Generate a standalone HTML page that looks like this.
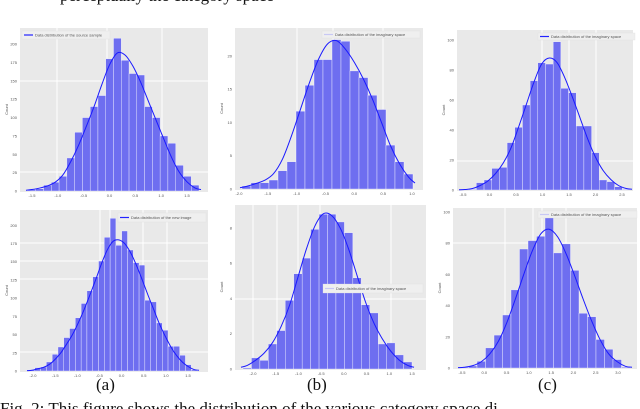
<!DOCTYPE html>
<html><head><meta charset="utf-8"><style>
body{margin:0;background:#fff;width:640px;height:409px;overflow:hidden}
svg{display:block}
text{font-family:"Liberation Serif",serif}
.t{font-family:"Liberation Sans",sans-serif;font-size:4px;fill:#555}
</style></head><body>
<svg id="fig" width="640" height="409" viewBox="0 0 640 409">
<text x="60" y="1" font-size="17" fill="#111">perceptually the category space</text>
<text x="96" y="390" font-size="17" fill="#111">(a)</text>
<text x="307" y="390" font-size="17" fill="#111">(b)</text>
<text x="538" y="390" font-size="17" fill="#111">(c)</text>
<text x="0" y="414" font-size="17" fill="#111">Fig. 2: This figure shows the distribution of the various category space di</text>
</svg>
<script>
// Panel data (counts per bin, KDE per bin, tick labels)
const aTopCounts=[2,3,8,12,20,45,80,100,115,130,180,208,178,160,158,115,100,75,65,35,20,8];
const aTopKde=[2,4,7,12,22,40,62,88,115,145,172,188,185,170,148,122,96,70,45,25,12,4];
const aTopYTicks=[0,25,50,75,100,125,150,175,200];
const aTopXTicks=[-1.5,-1.0,-0.5,0.0,0.5,1.0,1.5];

const bTopCounts=[0.45,0.95,0.95,1.35,2.75,4.1,11.7,15.6,19.45,19.45,22.45,22.2,17.75,16.75,14.1,11.95,6.6,4.1,2.25];
const bTopKde=[0.4,0.8,1.3,2.3,4.5,8,12,16,19.5,21.8,22.3,21,19,16.5,13.5,10,6.5,3.8,1.8];
const bTopYTicks=[0,5,10,15,20];
const bTopXTicks=[-2.0,-1.5,-1.0,-0.5,0.0,0.5,1.0];

const cTopCounts=[0,0.4,4.9,6.7,14.4,15.1,31.6,41.8,56.7,72.9,84.9,84,98.9,67.8,64.9,42.7,42.7,24.9,6.7,5.6,2.2,0.4];
const cTopKde=[0.3,1,3,6,11,18,28,42,57,72,84,88,85,75,62,48,34,22,13,7,3,1];
const cTopYTicks=[0,20,40,60,80,100];
const cTopXTicks=[-0.5,0.0,0.5,1.0,1.5,2.0,2.5];

const aBotCounts=[1.8,4.6,5.5,12.4,22.9,33,45.9,58.3,73,92.7,110.1,129.4,150.9,183.5,209.6,172.5,192.2,166.1,148.6,145.4,97.2,94.9,66,56,34,34,21.6,8.7,1.8];
const aBotKde=[1,3,5,9,16,25,37,50,66,84,104,125,147,166,178,180,175,163,146,126,105,85,65,48,33,21,12,6,2];
const aBotYTicks=[0,25,50,75,100,125,150,175,200];
const aBotXTicks=[-2.0,-1.5,-1.0,-0.5,0.0,0.5,1.0,1.5];

const bBotCounts=[0.06,0.63,0.49,1.42,2.18,3.89,5.4,6.29,7.92,8.78,8.78,8.34,7.73,5.17,3.64,3.18,1.42,1.48,0.8,0.4];
const bBotKde=[0.2,0.5,0.9,1.5,2.4,3.6,5.2,6.8,8.1,8.8,8.7,8.0,6.8,5.3,3.8,2.6,1.7,1.0,0.5,0.2];
const bBotYTicks=[0,2,4,6,8];
const bBotXTicks=[-2.0,-1.5,-1.0,-0.5,0.0,0.5,1.0,1.5];

const cBotCounts=[0.6,1.3,4.3,12.9,21.1,34,50.1,76.3,81.7,84.5,96.3,73.8,79.6,62.6,35.1,32.9,18.3,12,5.4,0.6];
const cBotKde=[0.5,1.5,4,9,17,29,44,60,75,86,89,84,73,59,44,30,18,9,4,1];
const cBotYTicks=[0,20,40,60,80,100];
const cBotXTicks=[-0.5,0.0,0.5,1.0,1.5,2.0,2.5,3.0];

const NS='http://www.w3.org/2000/svg';
const svg=document.getElementById('fig');
function mk(tag,attrs,parent){const e=document.createElementNS(NS,tag);for(const k in attrs)e.setAttribute(k,attrs[k]);(parent||svg).appendChild(e);return e;}

const panels=[
 {id:'a-top',counts:aTopCounts,kde:aTopKde,yt:aTopYTicks,xt:aTopXTicks,px:[20,208],py:[28,191],bx:[28,199],ymax:222,xtp:[32,187],
  legend:{x:22,y:31,w:88,h:8,label:'Data distribution of the source sample',line:'#2323ff'},vg:[57,107,162],hg:[81,172],yl:'Count'},
 {id:'b-top',counts:bTopCounts,kde:bTopKde,yt:bTopYTicks,xt:bTopXTicks,px:[235,423],py:[28,189],bx:[242,413],ymax:24.2,xtp:[239,412],
  legend:{x:322,y:31,w:98,h:7,label:'Data distribution of the imaginary space',line:'#c8c8f4'},vg:[297,333,383],hg:[],yl:'Count'},
 {id:'c-top',counts:cTopCounts,kde:cTopKde,yt:cTopYTicks,xt:cTopXTicks,px:[457,633],py:[30,190],bx:[461,630],ymax:106.7,xtp:[463,622],
  legend:{x:538,y:33,w:97,h:7,label:'Data distribution of the imaginary space',line:'#2323ff'},vg:[542,569,596],hg:[161],yl:'Count'},
 {id:'a-bottom',counts:aBotCounts,kde:aBotKde,yt:aBotYTicks,xt:aBotXTicks,px:[20,208],py:[210,371],bx:[29,197],ymax:221,xtp:[33,188],
  legend:{x:118,y:213,w:88,h:9,label:'Data distribution of the new image',line:'#2323ff'},vg:[100,110,143,167],hg:[243,261,279,352],yl:'Count'},
 {id:'b-bottom',counts:bBotCounts,kde:bBotKde,yt:bBotYTicks,xt:bBotXTicks,px:[235,426],py:[205,369],bx:[243,412],ymax:9.3,xtp:[253,412],
  legend:{x:323,y:284,w:100,h:9,label:'Data distribution of the imaginary space',line:'#c8c8f4'},vg:[253,277,298,320,391],hg:[299],yl:'Count'},
 {id:'c-bottom',counts:cBotCounts,kde:cBotKde,yt:cBotYTicks,xt:cBotXTicks,px:[453,637],py:[208,368],bx:[460,630],ymax:102.6,xtp:[462,618],
  legend:{x:538,y:211,w:99,h:7,label:'Data distribution of the imaginary space',line:'#c8c8f4'},vg:[505,533,542,566],hg:[243],yl:'Count'}
];

panels.forEach(p=>{
 const g=mk('g',{});
 
 
 const base=p.py[1], top=p.py[0];
 const y=v=>base-(v/p.ymax)*(base-top);
 const n=p.counts.length, bw=(p.bx[1]-p.bx[0])/n;
 const xb=i=>p.bx[0]+i*bw;
 const bg=mk('rect',{x:p.px[0],y:top,width:p.px[1]-p.px[0],height:base-top+1,fill:'#e9e9e9'},g);
 
 
 p.vg.forEach(x=>{const l=mk('line',{x1:x,x2:x,y1:top,y2:base,stroke:'#fff','stroke-width':1},g);
  
  });
 p.hg.forEach(yy=>{const l=mk('line',{x1:p.px[0],x2:p.px[1],y1:yy,y2:yy,stroke:'#fff','stroke-width':1},g);
  
  });
 p.counts.forEach((c,i)=>{
  const r=mk('rect',{x:xb(i),y:y(c),width:bw,height:base-y(c),fill:'#6e6ef0',stroke:'#f4f4ff','stroke-width':0.4},g);
  
  
 });
 const pts=p.kde.map((v,i)=>[xb(i)+bw/2,y(v)]);
 pts.unshift([p.bx[0]-2,y(p.kde[0]*0.5)]);
 pts.push([p.bx[1]+2,y(p.kde[p.kde.length-1]*0.5)]);
 let d='M'+pts[0][0]+','+pts[0][1];
 for(let i=0;i<pts.length-1;i++){
  const p0=pts[Math.max(0,i-1)],p1=pts[i],p2=pts[i+1],p3=pts[Math.min(pts.length-1,i+2)];
  const c1=[p1[0]+(p2[0]-p0[0])/6,p1[1]+(p2[1]-p0[1])/6],c2=[p2[0]-(p3[0]-p1[0])/6,p2[1]-(p3[1]-p1[1])/6];
  d+=' C'+c1[0]+','+c1[1]+' '+c2[0]+','+c2[1]+' '+p2[0]+','+p2[1];
 }
 const k=mk('path',{d:d,fill:'none',stroke:'#1a1aff','stroke-width':1},g);
 
 
 p.yt.forEach(v=>{
  const t=mk('text',{x:p.px[0]-3,y:y(v)+1.5,'text-anchor':'end',class:'t'},g);t.textContent=v;
  
  
 });
 const step=(p.xtp[1]-p.xtp[0])/(p.xt.length-1);
 p.xt.forEach((v,i)=>{
  const t=mk('text',{x:p.xtp[0]+i*step,y:base+6,'text-anchor':'middle',class:'t'},g);t.textContent=v.toFixed(1);
  
  
 });
 const yl=mk('text',{x:0,y:0,class:'t','text-anchor':'middle',transform:'translate('+(p.px[0]-12)+','+((top+base)/2)+') rotate(-90)'},g);
 yl.textContent=p.yl;
 
 
 const L=p.legend;
 const lg=mk('g',{},g);
 
 
 mk('rect',{x:L.x,y:L.y,width:L.w,height:L.h,fill:'#efefef',stroke:'#ddd','stroke-width':0.3},lg);
 mk('line',{x1:L.x+2,x2:L.x+11,y1:L.y+L.h/2,y2:L.y+L.h/2,stroke:L.line,'stroke-width':1.2},lg);
 const lt=mk('text',{x:L.x+13,y:L.y+L.h/2+1.4,class:'t'},lg);lt.textContent=L.label;
 
 
});
</script>
</body></html>
